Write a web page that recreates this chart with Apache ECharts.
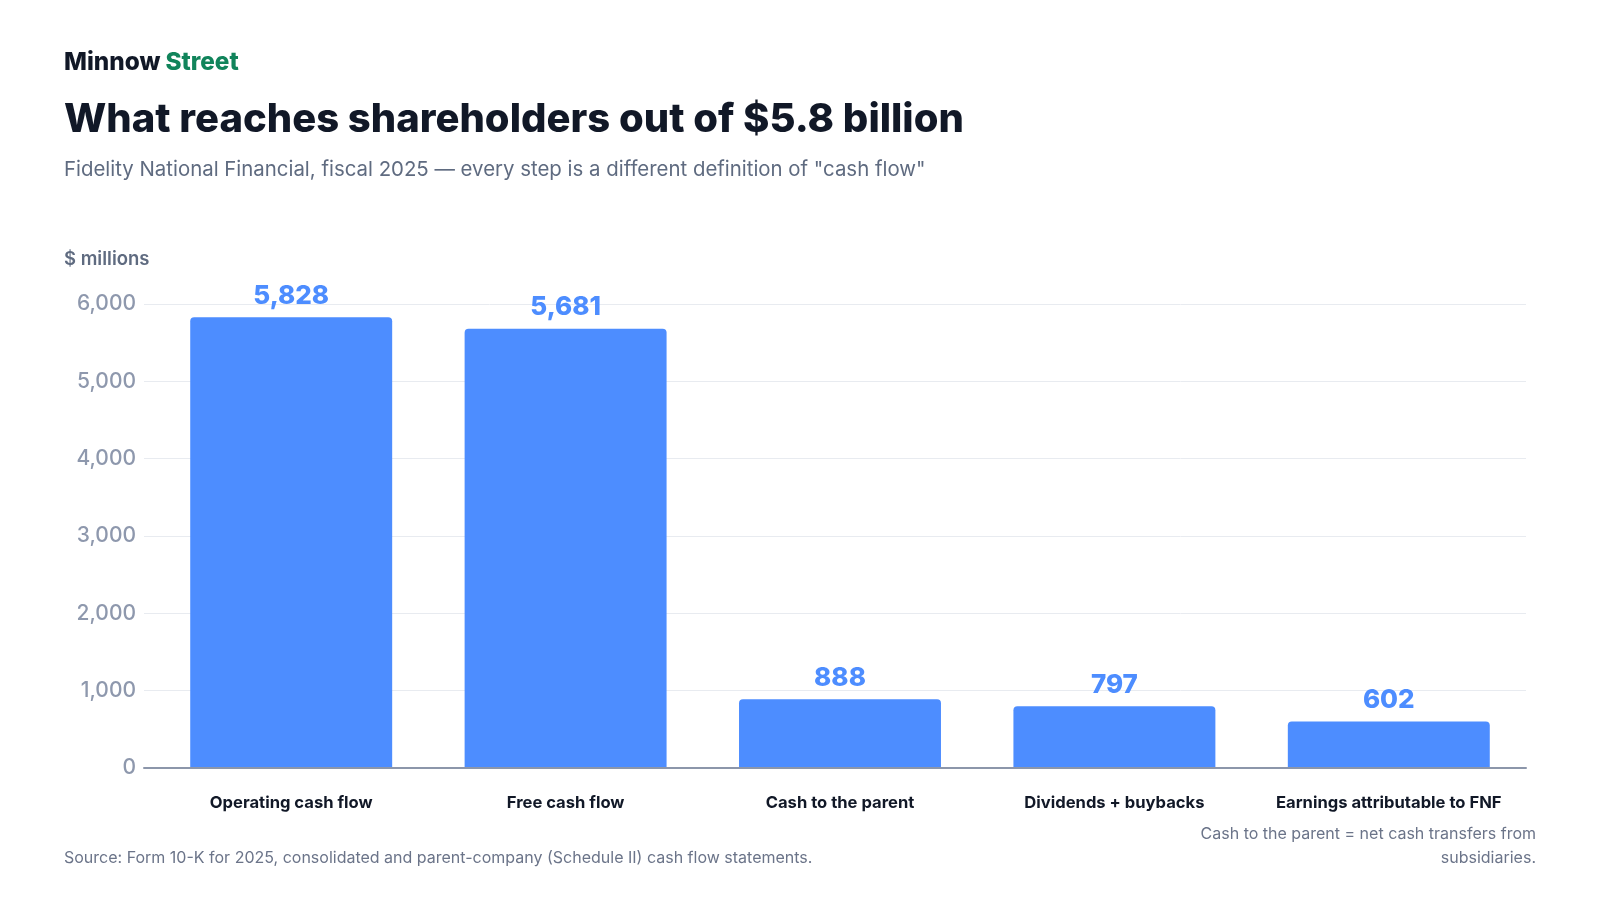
<!DOCTYPE html>
<html>
<head>
<meta charset="utf-8">
<script src="https://cdn.jsdelivr.net/npm/echarts@6/dist/echarts.min.js"></script>
<style>
  html, body { margin: 0; padding: 0; background: #fff; }
  #chart { width: 1600px; height: 900px; }
</style>
</head>
<body>
<div id="chart"></div>
<script>
// data
const categories = ['Operating cash flow', 'Free cash flow', 'Cash to the parent', 'Dividends + buybacks', 'Earnings attributable to FNF'];
const values = [5828, 5681, 888, 797, 602];
const yTicks = [0, 1000, 2000, 3000, 4000, 5000, 6000];

const FONT = 'Inter, "Noto Sans", sans-serif';
const BLUE = '#4d8dff';
const NOTE = '#6b7489';

const chart = echarts.init(document.getElementById('chart'));

chart.setOption({
    animation: false,
    title: [
        {
            text: '{a|Minnow} {b|Street}',
            left: 64,
            top: 51,
            padding: 0,
            textStyle: {
                rich: {
                    a: { fontFamily: FONT, fontSize: 24.3, fontWeight: 800, color: '#111827' },
                    b: { fontFamily: FONT, fontSize: 24.3, fontWeight: 800, color: '#11845b' }
                }
            }
        },
        {
            text: 'What reaches shareholders out of $5.8 billion',
            left: 64,
            top: 100,
            padding: 0,
            textStyle: { fontFamily: FONT, fontSize: 40, fontWeight: 800, color: '#111827' }
        },
        {
            text: 'Fidelity National Financial, fiscal 2025 \u2014 every step is a different definition of "cash flow"',
            left: 64,
            top: 160,
            padding: 0,
            textStyle: { fontFamily: FONT, fontSize: 20.4, fontWeight: 'normal', color: '#5f6b80' }
        },
        {
            text: '$ millions',
            left: 64,
            top: 250,
            padding: 0,
            textStyle: { fontFamily: FONT, fontSize: 18.5, fontWeight: 600, color: '#5f6b80' }
        },
        {
            text: 'Source: Form 10-K for 2025, consolidated and parent-company (Schedule II) cash flow statements.',
            left: 64,
            top: 850,
            padding: 0,
            textStyle: { fontFamily: FONT, fontSize: 16, fontWeight: 'normal', color: NOTE }
        },
        {
            text: 'Cash to the parent = net cash transfers from',
            right: 64,
            top: 826,
            padding: 0,
            textStyle: { fontFamily: FONT, fontSize: 16, fontWeight: 'normal', color: NOTE }
        },
        {
            text: 'subsidiaries.',
            right: 64,
            top: 850,
            padding: 0,
            textStyle: { fontFamily: FONT, fontSize: 16, fontWeight: 'normal', color: NOTE }
        }
    ],
    // grid 0 carries the value scale, gridlines and baseline; grid 1 carries the bars
    grid: [
        { left: 144, right: 74, top: 304, bottom: 132 },
        { left: 154, right: 74, top: 304, bottom: 132 }
    ],
    xAxis: [
        {
            gridIndex: 0,
            type: 'category',
            data: [''],
            axisTick: { show: false },
            axisLabel: { show: false },
            axisLine: { show: true, lineStyle: { color: '#8c96aa', width: 2 } },
            z: 5
        },
        {
            gridIndex: 1,
            type: 'category',
            data: categories,
            axisTick: { show: false },
            axisLine: { show: false },
            axisLabel: {
                interval: 0,
                margin: 26,
                fontFamily: FONT,
                fontSize: 16.6,
                fontWeight: 'bold',
                color: '#111827'
            }
        }
    ],
    yAxis: [
        {
            gridIndex: 0,
            type: 'value',
            min: 0,
            max: 6000,
            interval: 1000,
            axisLine: { show: false },
            axisTick: { show: false },
            splitLine: { lineStyle: { color: '#e8ebf0', width: 1 } },
            axisLabel: {
                margin: 8,
                fontFamily: FONT,
                fontSize: 21,
                fontWeight: 500,
                color: '#8e98ad',
                formatter: (v) => yTicks.includes(v) ? v.toLocaleString('en-US') : ''
            }
        },
        {
            gridIndex: 1,
            type: 'value',
            min: 0,
            max: 6000,
            interval: 1000,
            show: false,
            splitLine: { show: false }
        }
    ],
    series: [
        {
            type: 'bar',
            xAxisIndex: 1,
            yAxisIndex: 1,
            data: values,
            barWidth: '73.6%',
            z: 2,
            itemStyle: { color: BLUE, borderRadius: [4, 4, 0, 0] },
            label: {
                show: true,
                position: 'top',
                distance: 8,
                fontFamily: FONT,
                fontSize: 26,
                fontWeight: 800,
                color: BLUE,
                formatter: (p) => p.value.toLocaleString('en-US')
            }
        }
    ]
});
</script>
</body>
</html>
